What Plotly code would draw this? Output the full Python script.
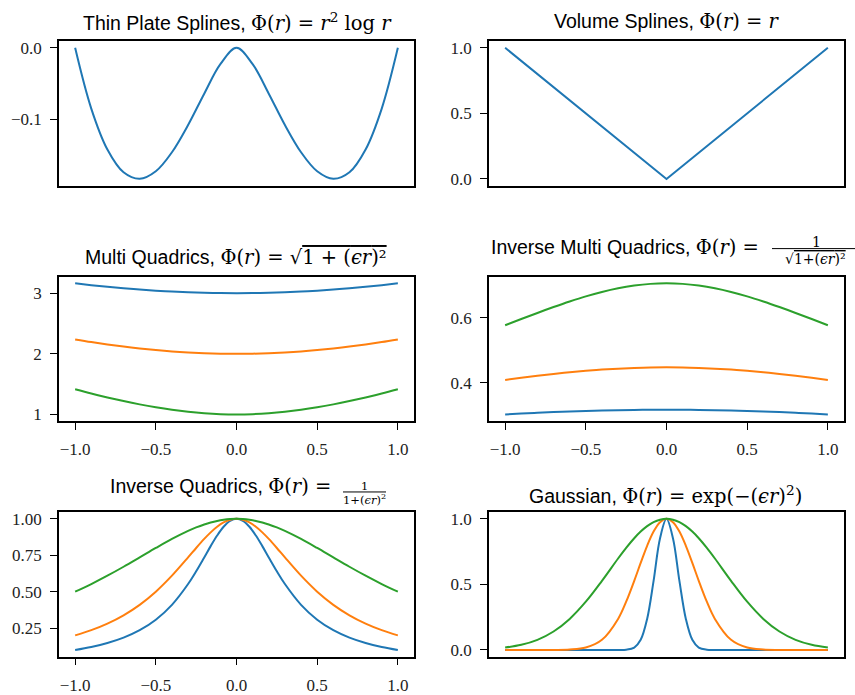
import plotly.graph_objects as go

# ---- sample radii (r >= 0); the curves are symmetric in r ----
R_COARSE = [0.0, 0.1, 0.2, 0.3, 0.4, 0.5, 0.6, 0.7, 0.8, 0.9, 1.0]
R_FINE = [0.0, 0.04, 0.08, 0.12, 0.16, 0.2, 0.25, 0.3, 0.4, 0.5, 0.6, 0.7, 0.8, 0.9, 1.0]

# Thin plate splines
TPS = [0.0, -0.0230, -0.0644, -0.1084, -0.1466, -0.1733, -0.1839, -0.1748, -0.1428, -0.0853, 0.0]

# Volume splines
VOL_R = [-1.0, 0.0, 1.0]
VOL = [1.0, 0.0, 1.0]

# Multi quadrics (blue, orange, green)
MQ_BLUE = [3.0000, 3.0017, 3.0067, 3.0150, 3.0265, 3.0414, 3.0594, 3.0806, 3.1048, 3.1321, 3.1623]
MQ_ORANGE = [2.0000, 2.0025, 2.0100, 2.0224, 2.0396, 2.0616, 2.0881, 2.1190, 2.1541, 2.1932, 2.2361]
MQ_GREEN = [1.0000, 1.0050, 1.0198, 1.0440, 1.0770, 1.1180, 1.1662, 1.2207, 1.2806, 1.3454, 1.4142]

# Inverse multi quadrics
IMQ_BLUE = [0.3162, 0.3161, 0.3156, 0.3148, 0.3137, 0.3124, 0.3107, 0.3088, 0.3066, 0.3042, 0.3015]
IMQ_ORANGE = [0.4472, 0.4468, 0.4454, 0.4432, 0.4402, 0.4364, 0.4319, 0.4268, 0.4211, 0.4149, 0.4082]
IMQ_GREEN = [0.7071, 0.7054, 0.7001, 0.6917, 0.6804, 0.6667, 0.6509, 0.6337, 0.6155, 0.5966, 0.5774]

# Inverse quadrics
IQ_BLUE = [1.0, 0.9858, 0.9455, 0.8853, 0.8127, 0.7353, 0.6400, 0.5525, 0.4098, 0.3077, 0.2358, 0.1848, 0.1479, 0.1206, 0.1000]
IQ_ORANGE = [1.0, 0.9936, 0.9750, 0.9455, 0.9071, 0.8621, 0.8000, 0.7353, 0.6098, 0.5000, 0.4098, 0.3378, 0.2809, 0.2358, 0.2000]
IQ_GREEN = [1.0, 0.9984, 0.9936, 0.9858, 0.9750, 0.9615, 0.9412, 0.9174, 0.8621, 0.8000, 0.7353, 0.6711, 0.6098, 0.5525, 0.5000]

# Gaussian
GA_BLUE = [1.0, 0.8521, 0.5273, 0.2369, 0.0773, 0.0183, 0.0019, 0.0001, 0.0, 0.0, 0.0, 0.0, 0.0, 0.0, 0.0]
GA_ORANGE = [1.0, 0.9747, 0.9027, 0.7942, 0.6639, 0.5273, 0.3679, 0.2369, 0.0773, 0.0183, 0.0032, 0.0004, 0.0, 0.0, 0.0]
GA_GREEN = [1.0, 0.9936, 0.9747, 0.9440, 0.9027, 0.8521, 0.7788, 0.6977, 0.5273, 0.3679, 0.2369, 0.1409, 0.0773, 0.0392, 0.0183]

# tick labels
X_TICKS = [-1.0, -0.5, 0.0, 0.5, 1.0]
X_TICK_TEXT = ["\u22121.0", "\u22120.5", "0.0", "0.5", "1.0"]

BLUE, ORANGE, GREEN = "#1f77b4", "#ff7f0e", "#2ca02c"
W, H = 855, 695
TICK_SERIF = "Liberation Serif"
MATH = "DejaVu Serif"
SANS = "Liberation Sans"


def px(x):
    return x / W


def py(y):
    return 1 - y / H


def mirror(r_half, v_half):
    xs = [-r for r in reversed(r_half[1:])] + list(r_half)
    ys = list(reversed(v_half[1:])) + list(v_half)
    return xs, ys


fig = go.Figure()

# subplot frames (pixel boxes: left, right, top, bottom)
boxes = {
    1: (59, 414, 40, 187), 2: (489, 844, 40, 187),
    3: (59, 414, 280, 427), 4: (489, 844, 280, 427),
    5: (59, 414, 520, 667), 6: (489, 844, 520, 667),
}

series = {
    1: [(R_COARSE, TPS, BLUE)],
    3: [(R_COARSE, MQ_BLUE, BLUE), (R_COARSE, MQ_ORANGE, ORANGE), (R_COARSE, MQ_GREEN, GREEN)],
    4: [(R_COARSE, IMQ_BLUE, BLUE), (R_COARSE, IMQ_ORANGE, ORANGE), (R_COARSE, IMQ_GREEN, GREEN)],
    5: [(R_FINE, IQ_BLUE, BLUE), (R_FINE, IQ_ORANGE, ORANGE), (R_FINE, IQ_GREEN, GREEN)],
    6: [(R_FINE, GA_BLUE, BLUE), (R_FINE, GA_ORANGE, ORANGE), (R_FINE, GA_GREEN, GREEN)],
}

for k, lst in series.items():
    for r_half, v_half, col in lst:
        xs, ys = mirror(r_half, v_half)
        fig.add_trace(go.Scatter(
            x=xs, y=ys, mode="lines",
            line=dict(color=col, width=2, shape="spline", smoothing=1.0),
            xaxis="x" if k == 1 else f"x{k}", yaxis="y" if k == 1 else f"y{k}",
            showlegend=False, hoverinfo="skip"))

fig.add_trace(go.Scatter(
    x=VOL_R, y=VOL, mode="lines", line=dict(color=BLUE, width=2),
    xaxis="x2", yaxis="y2", showlegend=False, hoverinfo="skip"))

y_setup = {
    1: ([-0.1933, 0.0092], [0.0, -0.1], ["0.0", "\u22120.1"]),
    2: ([-0.05, 1.05], [0.0, 0.5, 1.0], ["0.0", "0.5", "1.0"]),
    3: ([0.892, 3.270], [1, 2, 3], ["1", "2", "3"]),
    4: ([0.2812, 0.7274], [0.4, 0.6], ["0.4", "0.6"]),
    5: ([0.055, 1.045], [0.25, 0.5, 0.75, 1.0], ["0.25", "0.50", "0.75", "1.00"]),
    6: ([-0.05, 1.05], [0.0, 0.5, 1.0], ["0.0", "0.5", "1.0"]),
}
x_labelled = {3, 4, 5}

common = dict(showline=True, mirror=True, linecolor="black", linewidth=1.6,
              showgrid=False, zeroline=False, tickcolor="black",
              tickfont=dict(family=TICK_SERIF, size=17, color="#222"))

layout = {}
for k, (l, r, t, b) in boxes.items():
    xs = "xaxis" if k == 1 else f"xaxis{k}"
    ys = "yaxis" if k == 1 else f"yaxis{k}"
    anchor_x = "x" if k == 1 else f"x{k}"
    anchor_y = "y" if k == 1 else f"y{k}"
    if k in x_labelled:
        xt = dict(ticks="outside", ticklen=7, tickwidth=1.4, tickvals=X_TICKS,
                  ticktext=X_TICK_TEXT, showticklabels=True, ticklabelstandoff=5)
    else:
        xt = dict(ticks="", showticklabels=False)
    layout[xs] = dict(domain=[px(l), px(r)], range=[-1.1, 1.1], anchor=anchor_y, **xt, **common)
    yr, yv, ytxt = y_setup[k]
    layout[ys] = dict(domain=[py(b), py(t)], range=yr, anchor=anchor_x, ticks="outside",
                      ticklen=7, tickwidth=1.4, tickvals=yv, ticktext=ytxt,
                      ticklabelstandoff=5, **common)


def m(s):
    return f"<span style=\"font-family:'{MATH}'\">{s}</span>"


def over(s):
    return f"<span style=\"text-decoration:overline\">{s}</span>"


R = "<i>r</i>"
EPS = "(<i>\u03f5r</i>)"
ann = []
title_font = dict(family=SANS, size=19.5, color="black")

# plain titles, centred over their panels
ann.append(dict(x=px(237.5), y=py(20), text="Thin Plate Splines, " + m(f"\u03a6({R}) = {R}<sup>2</sup> log {R}")))
ann.append(dict(x=px(666.5), y=py(20), text="Volume Splines, " + m(f"\u03a6({R}) = {R}")))
ann.append(dict(x=px(236), y=py(260),
                text="Multi Quadrics, " + m(f"\u03a6({R}) = \u221a" + over(f"1 + {EPS}\u00b2"))))
ann.append(dict(x=px(665), y=py(502), text="Gaussian, " + m(f"\u03a6({R}) = exp(\u2212{EPS}<sup>2</sup>)")))
for a in ann:
    a.update(xref="paper", yref="paper", xanchor="center", yanchor="middle",
             showarrow=False, font=title_font)

# titles ending in a stacked fraction
frac_titles = [
    dict(text="Inverse Multi Quadrics, " + m(f"\u03a6({R}) = "), right=767, yc=250,
         num_x=816, num_y=244.5, bar=(772, 858), bar_y=251.3,
         den="\u221a" + over(f"1+{EPS}\u00b2"), den_x=815, den_y=262, size=14),
    dict(text="Inverse Quadrics, " + m(f"\u03a6({R}) = "), right=340, yc=494,
         num_x=364.5, num_y=493, bar=(343, 386), bar_y=499.3,
         den=f"1+{EPS}<sup>2</sup>", den_x=364.5, den_y=507, size=11.5),
]
shapes = []
for f in frac_titles:
    ann.append(dict(x=px(f["right"]), y=py(f["yc"]), text=f["text"], xref="paper", yref="paper",
                    xanchor="right", yanchor="middle", showarrow=False, font=title_font))
    small = dict(family=MATH, size=f["size"], color="black")
    ann.append(dict(x=px(f["num_x"]), y=py(f["num_y"]), text="1", xref="paper", yref="paper",
                    xanchor="center", yanchor="middle", showarrow=False, font=small))
    ann.append(dict(x=px(f["den_x"]), y=py(f["den_y"]), text=f["den"], xref="paper", yref="paper",
                    xanchor="center", yanchor="middle", showarrow=False, font=small))
    shapes.append(dict(type="line", xref="paper", yref="paper", x0=px(f["bar"][0]), x1=px(f["bar"][1]),
                       y0=py(f["bar_y"]), y1=py(f["bar_y"]), line=dict(color="black", width=1)))

fig.update_layout(
    width=W, height=H, margin=dict(l=0, r=0, t=0, b=0),
    paper_bgcolor="white", plot_bgcolor="white",
    annotations=ann, shapes=shapes, **layout)

fig.write_html("out.html")
